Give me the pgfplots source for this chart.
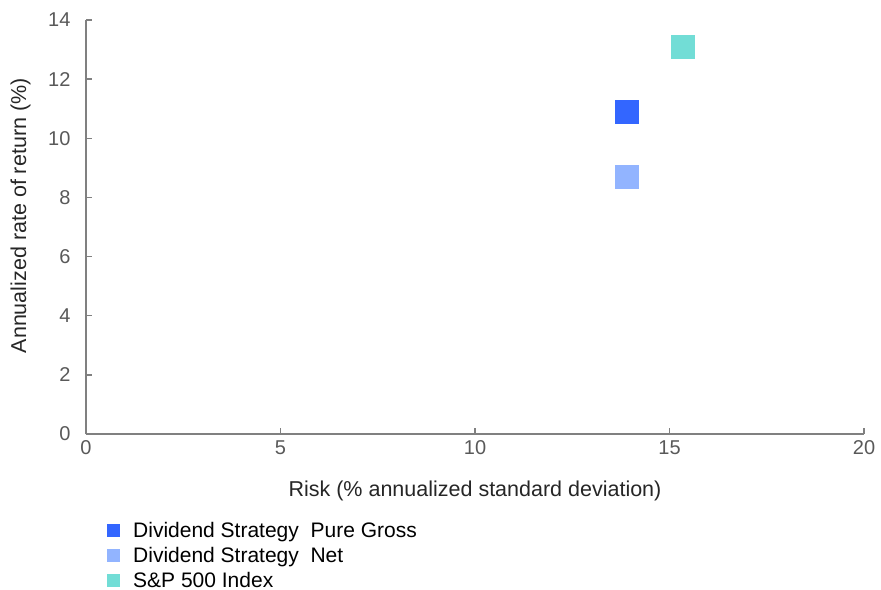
\documentclass[border=0pt]{standalone}
\usepackage{fontspec}
\setmainfont{Liberation Sans}
\usepackage{pgfplots}
\pgfplotsset{compat=1.18}

\definecolor{grossblue}{HTML}{3366FF}
\definecolor{netblue}{HTML}{92B4FF}
\definecolor{spteal}{HTML}{72DDD6}
\definecolor{axisgray}{HTML}{808080}
\definecolor{labelgray}{HTML}{595959}

\begin{document}
\begin{tikzpicture}
\path[use as bounding box] (0,0) rectangle (881bp,590bp);
\begin{axis}[
    at={(86bp,156bp)}, anchor=south west,
    scale only axis,
    width=778bp, height=414bp,
    xmin=0, xmax=20, ymin=0, ymax=14,
    xtick={0,5,...,20}, ytick={0,2,...,14},
    axis lines*=left,
    axis line style={axisgray, line width=1.5pt},
    tick style={axisgray, line width=1.5pt},
    tick align=inside,
    major tick length=6bp,
    tick label style={font=\fontsize{20bp}{24bp}\selectfont, text=labelgray},
    /pgf/number format/assume math mode=true,
    xticklabel style={yshift=-3bp},
    yticklabel style={xshift=-12bp},
    xlabel={Risk (\% annualized standard deviation)},
    ylabel={Annualized rate of return (\%)},
    label style={font=\fontsize{21.5bp}{25bp}\selectfont, text=black!85},
    xlabel style={at={(axis description cs:0.5,0)}, anchor=north, yshift=-43bp},
    ylabel style={at={(axis description cs:0,0.527)}, anchor=south, yshift=52bp},
    clip=false,
    legend cell align=left,
    legend style={draw=none, fill=none, at={(axis description cs:0.027,-0.207)}, anchor=north west,
        font=\fontsize{21bp}{24bp}\selectfont, row sep=4.5bp, inner sep=0pt},
    legend image code/.code={
        \fill[#1] (0bp,-6.5bp) rectangle (13bp,6.5bp);
        \path (24bp,0bp);},
]
\addplot[only marks, mark=square*, mark size=11.5bp, draw=none, fill=grossblue, color=grossblue]
    coordinates {(13.9,10.9)};
\addlegendentry{Dividend Strategy\ \ Pure Gross}
\addplot[only marks, mark=square*, mark size=11.5bp, draw=none, fill=netblue, color=netblue]
    coordinates {(13.9,8.7)};
\addlegendentry{Dividend Strategy\ \ Net}
\addplot[only marks, mark=square*, mark size=11.5bp, draw=none, fill=spteal, color=spteal]
    coordinates {(15.35,13.1)};
\addlegendentry{S\&P 500 Index}
\end{axis}
\end{tikzpicture}
\end{document}
